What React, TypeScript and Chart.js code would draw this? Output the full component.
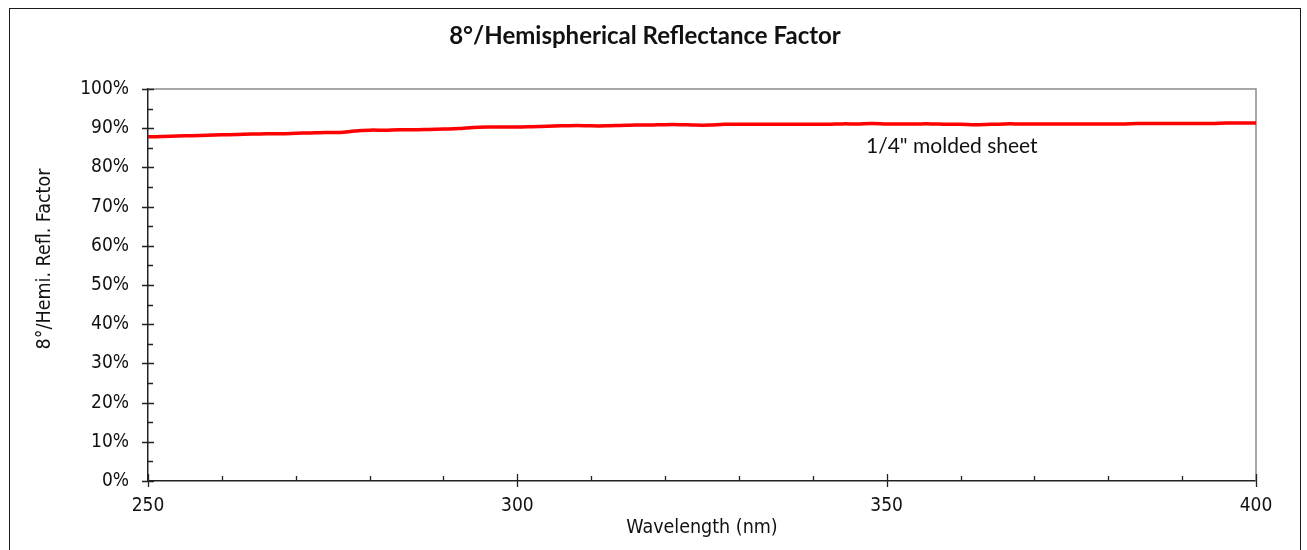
import React, { useEffect, useRef } from "react";
import { Chart, registerables } from "chart.js";

Chart.register(...registerables);

const wavelengths = [
  250, 252, 254, 256, 258, 260, 262, 264, 266, 268, 270, 272, 274, 276, 278, 280, 282, 284, 286, 288,
  290, 292, 294, 296, 298, 300, 302, 304, 306, 308, 310, 312, 314, 316, 318, 320, 322, 324, 326, 328,
  330, 332, 334, 336, 338, 340, 342, 344, 346, 348, 350, 352, 354, 356, 358, 360, 362, 364, 366, 368,
  370, 372, 374, 376, 378, 380, 382, 384, 386, 388, 390, 392, 394, 396, 398, 400,
];

const reflectance = [
  87.8, 87.9, 88.0, 88.1, 88.2, 88.3, 88.4, 88.5, 88.6, 88.6, 88.7, 88.8, 88.9, 88.9, 89.3, 89.5, 89.5, 89.6, 89.6, 89.7,
  89.8, 89.9, 90.2, 90.3, 90.3, 90.3, 90.4, 90.5, 90.6, 90.7, 90.6, 90.6, 90.7, 90.8, 90.8, 90.9, 90.9, 90.8, 90.8, 91.0,
  91.0, 91.0, 91.0, 91.0, 91.0, 91.0, 91.0, 91.1, 91.1, 91.2, 91.1, 91.1, 91.1, 91.1, 91.0, 91.0, 90.9, 91.0, 91.1, 91.1,
  91.1, 91.1, 91.1, 91.1, 91.1, 91.1, 91.1, 91.2, 91.2, 91.2, 91.2, 91.2, 91.2, 91.3, 91.3, 91.3,
];

const xTickValues = [250, 300, 350, 400];
const chartTitle = "8°/Hemispherical Reflectance Factor";
const xTitle = "Wavelength (nm)";
const yTitle = "8°/Hemi. Refl. Factor";
const seriesLabel = '1/4" molded sheet';

const TICK_FONT = "'DejaVu Sans Condensed', 'DejaVu Sans', sans-serif";
const LABEL_FONT = "Lato, 'Open Sans', sans-serif";

export default function App() {
  const ref = useRef<HTMLCanvasElement | null>(null);

  useEffect(() => {
    if (!ref.current) return;

    const decorPlugin = {
      id: "decor",
      beforeDatasetsDraw(chart: any) {
        const { ctx, chartArea } = chart;
        ctx.save();
        ctx.strokeStyle = "#8c8c8c";
        ctx.lineWidth = 1.5;
        ctx.beginPath();
        ctx.moveTo(chartArea.left, chartArea.top);
        ctx.lineTo(chartArea.right, chartArea.top);
        ctx.lineTo(chartArea.right, chartArea.bottom);
        ctx.stroke();
        ctx.restore();
      },
      afterDraw(chart: any) {
        const { ctx, chartArea, scales } = chart;
        const xs = scales.x;
        const ys = scales.y;
        ctx.save();
        // outer border
        ctx.strokeStyle = "#1a1a1a";
        ctx.lineWidth = 1;
        ctx.strokeRect(9.5, 8.5, 1291, 560);

        // ticks
        ctx.strokeStyle = "#222";
        ctx.lineWidth = 1.3;
        ctx.beginPath();
        for (let v = 0; v <= 100; v += 5) {
          const py = Math.round(ys.getPixelForValue(v)) + 0.5;
          const major = v % 10 === 0;
          ctx.moveTo(chartArea.left - (major ? 6 : 0), py);
          ctx.lineTo(chartArea.left + (major ? 6 : 5), py);
        }
        for (let v = 250; v <= 400; v += 10) {
          const px = Math.round(xs.getPixelForValue(v)) + 0.5;
          const major = v % 50 === 0;
          ctx.moveTo(px, chartArea.bottom + (major ? 6 : 0));
          ctx.lineTo(px, chartArea.bottom - (major ? 7 : 5));
        }
        ctx.stroke();

        // title
        ctx.fillStyle = "#111";
        ctx.textAlign = "center";
        ctx.textBaseline = "middle";
        ctx.font = `bold 24px ${LABEL_FONT}`;
        ctx.fillText(chartTitle, 645, 36);

        // axis titles
        ctx.font = `19.5px ${TICK_FONT}`;
        ctx.fillText(xTitle, 702, 528);
        ctx.save();
        ctx.translate(45, 259);
        ctx.rotate(-Math.PI / 2);
        ctx.fillText(yTitle, 0, 0);
        ctx.restore();

        // series annotation
        ctx.font = `21px ${LABEL_FONT}`;
        ctx.textAlign = "left";
        ctx.fillText(seriesLabel, 866, 146);
        ctx.restore();
      },
    };

    const chart = new Chart(ref.current, {
      type: "line",
      data: {
        datasets: [
          {
            label: seriesLabel,
            data: wavelengths.map((w, i) => ({ x: w, y: reflectance[i] })),
            borderColor: "#ff0000",
            borderWidth: 3.5,
            pointRadius: 0,
            tension: 0.3,
            fill: false,
          },
        ],
      },
      options: {
        animation: false,
        responsive: false,
        devicePixelRatio: 1,
        layout: { padding: { left: 0, top: 89, right: 51, bottom: 0 } },
        plugins: {
          legend: { display: false },
          title: { display: false },
          tooltip: { enabled: false },
        },
        scales: {
          x: {
            type: "linear",
            min: 250,
            max: 400,
            afterFit: (s: any) => {
              s.height = 69;
            },
            afterBuildTicks: (s: any) => {
              s.ticks = xTickValues.map((v) => ({ value: v }));
            },
            grid: { display: false, drawTicks: false },
            border: { display: true, color: "#222", width: 1.5 },
            ticks: {
              color: "#111",
              padding: 14,
              maxRotation: 0,
              font: { family: TICK_FONT, size: 19 },
            },
          },
          y: {
            type: "linear",
            min: 0,
            max: 100,
            afterFit: (s: any) => {
              s.width = 148;
            },
            grid: { display: false, drawTicks: false },
            border: { display: true, color: "#222", width: 1.5 },
            ticks: {
              stepSize: 10,
              color: "#111",
              padding: 19,
              font: { family: TICK_FONT, size: 19 },
              callback: (v: any) => `${v}%`,
            },
          },
        },
      },
      plugins: [decorPlugin],
    });

    return () => chart.destroy();
  }, []);

  return (
    <div style={{ position: "fixed", left: 0, top: 0, width: 1307, height: 550, background: "#fff" }}>
      <canvas ref={ref} width={1307} height={550} style={{ width: 1307, height: 550, display: "block" }} />
    </div>
  );
}
